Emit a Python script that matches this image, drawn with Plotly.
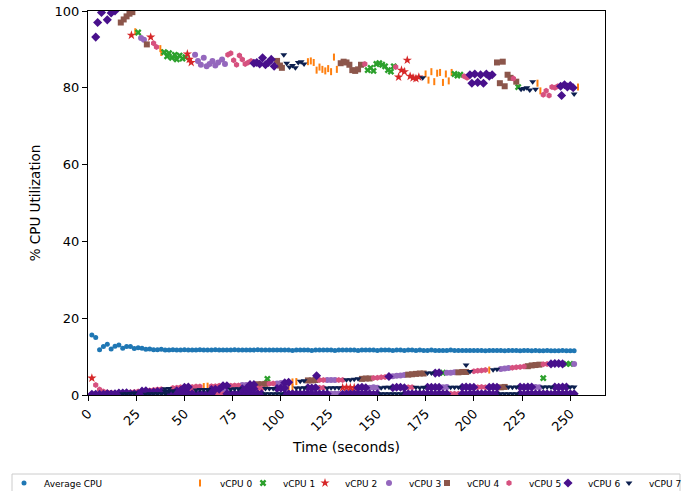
import plotly.graph_objects as go

# ---------------- data ----------------
NAMES = ["vCPU 0", "vCPU 1", "vCPU 2", "vCPU 3", "vCPU 4", "vCPU 5", "vCPU 6", "vCPU 7"]

# sampling times of the low bands and the average (seconds)
T = [2, 4, 6, 8, 10, 12, 14, 16, 18, 20, 22, 24, 26, 28, 30, 32, 34, 36, 38, 40,
     42, 44, 46, 48, 50, 52, 54, 56, 58, 60, 62, 64, 66, 68, 70, 72, 74, 76, 78, 80,
     82, 84, 86, 88, 90, 92, 94, 96, 98, 100, 102, 104, 106, 108, 110, 112, 114, 116, 118, 120,
     122, 124, 126, 128, 130, 132, 134, 136, 138, 140, 142, 144, 146, 148, 150, 152, 154, 156, 158, 160,
     162, 164, 166, 168, 170, 172, 174, 176, 178, 180, 182, 184, 186, 188, 190, 192, 194, 196, 198, 200,
     202, 204, 206, 208, 210, 212, 214, 216, 218, 220, 222, 224, 226, 228, 230, 232, 234, 236, 238, 240,
     242, 244, 246, 248, 250, 252]

AVG = [15.6, 15.0, 11.8, 12.6, 13.2, 12.0, 12.7, 13.0, 12.2, 12.6, 12.6, 12.1, 12.3, 12.2, 11.9, 12.0, 11.8, 11.8, 11.9, 11.7,
       11.7, 11.8, 11.7, 11.7, 11.8, 11.7, 11.7, 11.7, 11.8, 11.7, 11.7, 11.7, 11.8, 11.7, 11.7, 11.7, 11.7, 11.8, 11.7, 11.7,
       11.7, 11.7, 11.7, 11.8, 11.7, 11.7, 11.7, 11.7, 11.7, 11.7,
       11.7, 11.7, 11.6, 11.7, 11.7, 11.7, 11.7, 11.6, 11.7, 11.7, 11.7, 11.7, 11.7, 11.6, 11.7, 11.7, 11.7, 11.7, 11.7, 11.6,
       11.7, 11.7, 11.7, 11.7, 11.6, 11.7, 11.7, 11.7, 11.6, 11.7, 11.7, 11.6, 11.7, 11.7, 11.6, 11.7, 11.6, 11.6, 11.7, 11.6,
       11.6, 11.6, 11.6, 11.7, 11.6, 11.6, 11.6, 11.6, 11.6, 11.6, 11.6, 11.6, 11.5, 11.6, 11.6, 11.6, 11.6, 11.5, 11.6, 11.6,
       11.6, 11.5, 11.6, 11.6, 11.5, 11.6, 11.5, 11.5, 11.6, 11.5, 11.5, 11.5, 11.6, 11.5, 11.5, 11.5]

# busy vCPU (high band): time, vCPU index, utilisation
HI_T = [4, 5, 7, 10, 12, 14, 17, 18.5, 20, 21.5, 23,
        22.5, 24.5, 26, 27.5, 29, 30.5, 32.5, 34, 35.5, 37.5, 38,
        39.5, 41, 42, 43.5, 45, 46, 47.5, 49, 50.5,
        51.5, 52.5, 53.5,
        55.5, 57, 58.5, 60, 61.5, 63, 64.5, 66, 67.5, 69.5, 71,
        72.5, 74, 75.5, 77, 78.5, 80, 81.5, 83, 84.5,
        86, 87.5, 89, 90.5, 92, 93.5, 95, 96.5,
        98, 99.5, 100.5,
        101.5, 103, 104.5, 106, 107.5, 109, 110.5, 112,
        114, 115.5, 117, 118.5, 120, 121.5, 123, 124.5, 126, 127.5, 129,
        131, 132.5, 134, 135.5, 137, 138.5, 140, 141.5,
        143.5,
        145, 146.5, 148, 149.5, 151, 152.5, 154, 155.5, 157, 158.5,
        159.5,
        161, 162.5, 164, 165.5, 167, 168.5, 170, 171.5,
        173.5,
        175, 176.5, 178, 179.5, 181, 182.5, 184, 185.5, 187, 188.5,
        190, 191.5, 193,
        195, 196.5,
        198, 199, 200.5, 202, 203.5, 205, 206.5, 208, 209.5,
        212, 213.5, 215, 216, 217.5, 219,
        220.5, 222, 223,
        224.5, 226, 227.5, 229, 230.5, 232,
        233, 234.5,
        236, 237.5, 239, 240.5, 242, 243.5,
        245, 245.5, 247, 248.5, 250, 251.5,
        252, 254]
HI_CPU = [6, 6, 6, 6, 6, 6, 4, 4, 4, 4, 4,
          2, 0, 1, 3, 3, 4, 2, 5, 5, 0, 0,
          1, 1, 1, 1, 1, 1, 1, 1, 1,
          2, 2, 2,
          3, 3, 3, 3, 3, 3, 3, 3, 3, 3, 3,
          5, 5, 5, 5, 5, 5, 5, 5, 5,
          6, 6, 6, 6, 6, 6, 6, 6,
          4, 4, 4,
          7, 7, 7, 7, 7, 7, 7, 7,
          0, 0, 0, 0, 0, 0, 0, 0, 0, 0, 0,
          4, 4, 4, 4, 4, 4, 4, 4,
          5,
          1, 1, 1, 1, 1, 1, 1, 1, 1, 1,
          5,
          2, 2, 2, 2, 2, 2, 2, 2,
          7,
          0, 0, 0, 0, 0, 0, 0, 0, 0, 0,
          1, 1, 1,
          5, 5,
          6, 6, 6, 6, 6, 6, 6, 6, 6,
          4, 4, 4, 4, 4, 4,
          5, 4, 1,
          7, 7, 7, 7, 7, 7,
          0, 0,
          5, 5, 5, 5, 5, 5,
          6, 6, 6, 6, 6, 6,
          7, 0]
HI_VAL = [93.2, 97.0, 99.6, 97.7, 99.5, 100.0, 97.0, 97.8, 98.6, 99.3, 99.7,
          93.7, 94.6, 94.4, 93.0, 92.5, 91.3, 93.2, 91.6, 90.6, 90.2, 89.2,
          89.3, 88.2, 89.0, 87.8, 88.6, 87.4, 88.4, 87.6, 88.0,
          88.8, 87.4, 86.6,
          88.6, 87.0, 86.0, 87.8, 85.6, 86.2, 87.0, 85.8, 86.6, 87.4, 86.2,
          88.6, 89.0, 87.2, 86.0, 88.4, 87.4, 86.2, 86.6, 87.0,
          86.4, 86.6, 86.2, 87.8, 86.0, 86.6, 87.4, 85.6,
          87.0, 85.8, 85.2,
          88.6, 86.4, 85.4, 85.8, 85.2, 86.6, 86.8, 86.2,
          86.8, 87.0, 86.6, 84.6, 85.4, 84.8, 84.4, 85.0, 84.2, 88.0, 84.8,
          86.4, 86.8, 86.6, 86.0, 84.6, 84.4, 84.8, 86.0,
          86.2,
          84.6, 85.2, 84.4, 86.2, 86.4, 86.0, 85.6, 84.6, 84.2, 85.6,
          85.4,
          82.8, 84.6, 84.2, 87.2, 83.0, 82.6, 82.4, 82.8,
          82.6,
          83.6, 82.0, 84.2, 81.6, 83.8, 84.0, 81.4, 83.6, 81.8, 84.0,
          83.6, 83.2, 83.4,
          83.0, 82.6,
          83.4, 81.2, 83.6, 81.4, 83.4, 81.2, 83.6, 83.0, 83.4,
          86.6, 81.2, 86.8, 80.4, 83.4, 82.6,
          82.4, 81.6, 80.2,
          79.6, 79.8, 80.0, 79.4, 81.6, 79.6,
          81.2, 79.2,
          78.2, 79.2, 78.0, 80.2, 80.0, 80.4,
          80.4, 78.0, 80.8, 80.2, 80.6, 80.0,
          78.4, 80.2]

# upper low band (rising to ~8 %)
UP_VAL = [4.4, 2.6, 1.4, 0.9, 0.7, 0.6, 0.5, 0.5, 0.5, 0.6, 0.7, 0.8, 0.9, 1.0, 1.1, 1.2, 1.3, 1.4, 1.5, 1.6,
          1.7, 1.8, 1.9, 2.0, 2.0, 2.1, 2.1, 2.2, 2.2, 2.2, 2.3, 2.3, 2.3, 2.4, 2.4, 2.4, 2.4, 2.5, 2.5, 2.6,
          2.6, 2.7, 2.7, 2.8, 2.8, 2.9, 2.9, 3.0, 3.0, 3.1, 3.2, 3.3, 3.4, 3.5, 3.6, 3.7, 3.8, 3.8, 3.9, 3.9,
          3.9, 3.9, 3.9, 3.9, 3.9, 3.9, 4.0, 4.0, 4.1, 4.2, 4.2, 4.3, 4.3, 4.4, 4.5, 4.6, 4.7, 4.8, 4.9, 5.0,
          5.1, 5.2, 5.3, 5.4, 5.5, 5.6, 5.6, 5.7, 5.7, 5.7, 5.8, 5.8, 5.8, 5.8, 5.9, 5.9, 6.0, 6.0, 6.1, 6.2,
          6.3, 6.4, 6.5, 6.5, 6.6, 6.7, 6.8, 6.9, 7.0, 7.1, 7.2, 7.3, 7.4, 7.5, 7.7, 7.8, 7.9, 8.0, 8.1, 8.1,
          8.2, 8.2, 8.1, 8.1, 8.1, 8.1]
UP_RUNS = [(2, 1), (5, 6), (6, 3), (5, 3), (6, 2), (5, 4), (7, 2), (5, 3), (6, 2), (5, 3), (0, 2), (5, 3),
           (6, 2), (5, 3), (3, 2), (6, 2), (4, 3), (5, 2), (3, 2), (6, 2), (0, 2), (7, 2), (4, 3), (5, 2),
           (3, 3), (5, 2), (7, 4), (4, 3), (5, 4), (6, 1), (3, 4), (4, 5), (7, 2), (6, 2), (1, 1), (3, 3),
           (4, 3), (7, 1), (5, 4), (0, 1), (7, 2), (3, 3), (5, 4), (4, 4), (5, 2), (6, 4), (1, 2), (3, 1)]

# middle low band (~2 %)
MID_VAL = [0.2, 0.2, 0.2, 0.2, 0.2, 0.2, 0.2,
           0.2, 0.3, 0.3, 0.4, 0.5, 0.5, 0.6, 0.7, 0.7, 0.8, 0.9, 0.9, 1.0, 1.0, 1.1, 1.1, 1.2, 1.2,
           1.3, 1.3, 1.3, 1.4, 1.4, 1.4, 1.4, 1.5, 1.5, 1.5, 1.5, 1.5, 1.6, 1.6, 1.6, 1.6, 1.6, 1.6,
           1.7, 1.7, 1.7, 1.7, 1.7, 1.7,
           1.8, 1.8, 1.8, 1.9, 1.8, 1.8, 1.9, 1.9, 1.8, 1.9, 1.9, 1.9, 1.8, 1.9, 1.9, 1.9, 1.9, 2.0, 1.9, 1.9,
           1.9, 2.0, 1.9, 1.9, 2.0, 1.9, 1.9, 2.0, 2.0, 1.9, 2.0, 2.0, 1.9, 2.0, 2.0, 2.0, 1.9, 2.0, 2.0, 2.0,
           2.0, 2.0, 2.0, 2.1, 2.0, 2.0, 2.0, 2.0, 2.1, 2.0, 2.0, 2.0, 2.1, 2.0, 2.0, 2.1, 2.0, 2.0, 2.1, 2.1,
           2.0, 2.1, 2.1, 2.0, 2.1, 2.1, 2.1, 2.0, 2.1, 2.1, 2.1, 2.1, 2.0, 2.1, 2.1, 2.1, 2.1]
MID_RUNS = [(6, 8), (7, 4), (5, 3), (6, 4), (7, 3), (6, 3), (5, 2), (7, 4), (6, 3), (3, 2), (7, 3), (6, 4),
            (5, 2), (7, 3), (6, 3), (0, 2), (7, 3), (6, 3), (5, 2), (7, 4), (2, 4), (6, 3), (3, 3), (7, 3),
            (6, 4), (5, 2), (7, 3), (6, 4), (3, 2), (7, 3), (6, 4), (5, 3), (6, 3), (4, 2), (7, 3), (6, 4),
            (3, 2), (7, 3), (6, 4), (7, 2)]

# bottom band (~0 %)
BOT_VAL = [0.3, 0.3, 0.2, 0.3, 0.3, 0.2, 0.3, 0.3, 0.3, 0.2, 0.3, 0.3, 0.3, 0.3, 0.2, 0.3, 0.3, 0.3, 0.3, 0.3,
           0.3, 0.2, 0.3, 0.3, 0.3, 0.3, 0.3, 0.2, 0.3, 0.3, 0.3, 0.3, 0.3, 0.3, 0.2, 0.3, 0.3, 0.3, 0.3, 0.3,
           0.3, 0.3, 0.2, 0.3, 0.3, 0.3, 0.3, 0.3, 0.3, 0.3, 0.2, 0.3, 0.3, 0.3, 0.3, 0.3, 0.3, 0.3, 0.2, 0.3,
           0.3, 0.3, 0.3, 0.3, 0.3, 0.2, 0.3, 0.3, 0.3, 0.3, 0.3, 0.3, 0.3, 0.2, 0.3, 0.3, 0.3, 0.3, 0.3, 0.3,
           0.3, 0.2, 0.3, 0.3, 0.3, 0.3, 0.3, 0.3, 0.3, 0.2, 0.3, 0.3, 0.3, 0.3, 0.3, 0.3, 0.3, 0.2, 0.3, 0.3,
           0.3, 0.3, 0.3, 0.3, 0.2, 0.3, 0.3, 0.3, 0.3, 0.3, 0.3, 0.3, 0.2, 0.3, 0.3, 0.3, 0.3, 0.3, 0.3, 0.2,
           0.3, 0.3, 0.3, 0.3, 0.3, 0.3]
BOT_RUNS = [(5, 4), (6, 10), (7, 6), (6, 12), (5, 3), (6, 10), (7, 5), (6, 12), (3, 3), (6, 10), (7, 6),
            (6, 12), (5, 3), (6, 10), (7, 5), (6, 15)]

# isolated points
OUT_T = [93, 118.5, 196, 236]
OUT_CPU = [1, 6, 7, 1]
OUT_VAL = [4.2, 5.0, 7.8, 4.4]

# ---------------- styles ----------------
COLORS = ["#ff7f0e", "#2ca02c", "#d62728", "#9467bd", "#8c564b", "#d6517f", "#48108c", "#0c1f4f"]
SYMBOLS = ["line-ns", "x", "star", "circle", "square", "hexagon", "diamond", "triangle-down"]
SIZES = [5, 6, 7, 6, 6, 6, 7, 6]
LEGEND_X_PX = [180, 243, 305, 369, 427, 489, 548, 609]   # left edge of each legend entry


def expand(runs, n):
    out = []
    for cpu, cnt in runs:
        out += [cpu] * cnt
    out = out[:n]
    while len(out) < n:
        out.append(out[-1])
    return out


xs = [[] for _ in range(8)]
ys = [[] for _ in range(8)]
for vals, runs in ((BOT_VAL, BOT_RUNS), (MID_VAL, MID_RUNS), (UP_VAL, UP_RUNS)):
    cpus = expand(runs, len(T))
    for t, v, c in zip(T, vals, cpus):
        xs[c].append(t)
        ys[c].append(v)
for t, c, v in zip(HI_T, HI_CPU, HI_VAL):
    xs[c].append(t)
    ys[c].append(v)
for t, c, v in zip(OUT_T, OUT_CPU, OUT_VAL):
    xs[c].append(t)
    ys[c].append(v)

fig = go.Figure()
fig.add_trace(go.Scatter(
    x=T, y=AVG, mode="markers", name="Average CPU", legend="legend",
    marker=dict(color="#1f77b4", size=5, symbol="circle", line=dict(width=0))))

for i in range(8):
    if SYMBOLS[i] == "line-ns":
        mk = dict(color=COLORS[i], size=SIZES[i], symbol="line-ns",
                  line=dict(color=COLORS[i], width=2))
    else:
        mk = dict(color=COLORS[i], size=SIZES[i], symbol=SYMBOLS[i], line=dict(width=0))
    fig.add_trace(go.Scatter(x=xs[i], y=ys[i], mode="markers", name=NAMES[i],
                             legend="legend%d" % (i + 2), marker=mk))

W, H = 686, 491
L, R, TOP, B = 88, 81, 11, 96
pw, ph = W - L - R, H - TOP - B
LEG_Y = 1 - 483 / H

FONT = "DejaVu Sans, Verdana, sans-serif"
axis_common = dict(showline=True, linecolor="black", linewidth=1, mirror=True,
                   ticks="outside", ticklen=5, tickwidth=1, tickcolor="black",
                   showgrid=False, zeroline=False,
                   tickfont=dict(family=FONT, size=13, color="black"))
leg_common = dict(orientation="h", xref="container", yref="container", y=LEG_Y,
                  xanchor="left", yanchor="middle",
                  font=dict(family=FONT, size=9), bgcolor="rgba(0,0,0,0)", borderwidth=0)

legends = {"legend": dict(x=4 / W, **leg_common)}
for i in range(8):
    legends["legend%d" % (i + 2)] = dict(x=LEGEND_X_PX[i] / W, **leg_common)

fig.update_layout(
    width=W, height=H,
    margin=dict(l=L, r=R, t=TOP, b=B, autoexpand=False),
    paper_bgcolor="white", plot_bgcolor="white",
    showlegend=True,
    font=dict(family=FONT, color="black"),
    xaxis=dict(range=[0, 268], tickvals=[0, 25, 50, 75, 100, 125, 150, 175, 200, 225, 250],
               tickangle=-45,
               title=dict(text="Time (seconds)", font=dict(family=FONT, size=14), standoff=8),
               **axis_common),
    yaxis=dict(range=[0, 100], tickvals=[0, 20, 40, 60, 80, 100],
               title=dict(text="% CPU Utilization", font=dict(family=FONT, size=13.5), standoff=10),
               **axis_common),
    shapes=[dict(type="rect", xref="paper", yref="paper",
                 x0=(12 - L) / pw, x1=(680 - L) / pw,
                 y0=(H - B - 496) / ph, y1=(H - B - 474) / ph,
                 line=dict(color="#cccccc", width=1), fillcolor="rgba(0,0,0,0)", layer="below")],
    **legends,
)

fig.write_html("out.html")
